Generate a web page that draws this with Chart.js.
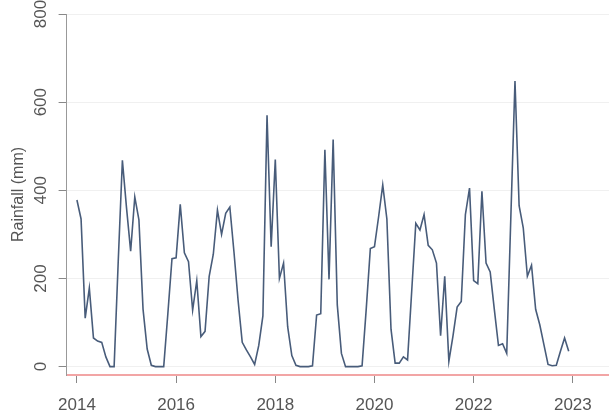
<!DOCTYPE html>
<html>
<head>
<meta charset="utf-8">
<script src="https://cdn.jsdelivr.net/npm/chart.js@4"></script>
<style>
  html, body { margin: 0; padding: 0; background: #fff; }
  #wrap { width: 609px; height: 417px; }
</style>
</head>
<body>
<div id="wrap"><canvas id="chart"></canvas></div>
<script>
// monthly rainfall (mm), Jan 2014 onwards, one value per month
const rainfall = [
  378, 335, 110, 178, 65, 58, 55, 22, 0, 0, 240, 468,
  360, 262, 385, 333, 130, 40, 3, 0, 0, 0, 120, 245,
  247, 368, 258, 238, 128, 195, 68, 80, 205, 255, 355, 300,
  348, 362, 260, 150, 55, 38, 22, 5, 48, 115, 570, 272,
  470, 200, 235, 90, 25, 3, 0, 0, 0, 2, 117, 120,
  492, 198, 515, 140, 30, 0, 0, 0, 0, 2, 130, 268,
  272, 340, 412, 335, 85, 8, 8, 22, 15, 170, 325, 310,
  345, 275, 265, 235, 70, 205, 12, 70, 135, 148, 345, 405,
  195, 188, 398, 235, 215, 130, 48, 52, 30, 340, 648, 365,
  315, 205, 230, 130, 95, 50, 5, 2, 3, 35, 65, 35
];
const xTickValues = [0, 24, 48, 72, 96, 120];
const xTickLabels = ['2014', '2016', '2018', '2020', '2022', '2023'];
const yTickValues = [0, 200, 400, 600, 800];

const points = rainfall.map((v, i) => ({ x: i, y: v }));
const txt = '#555';

new Chart(document.getElementById('chart'), {
  type: 'line',
  data: {
    datasets: [{
      data: points,
      borderColor: 'rgb(72, 92, 122)',
      borderWidth: 1.6,
      pointRadius: 0,
      tension: 0,
      fill: false
    }]
  },
  options: {
    responsive: true,
    maintainAspectRatio: false,
    animation: false,
    layout: { padding: { top: 14, right: 0, bottom: 0, left: 0 } },
    plugins: { legend: { display: false }, tooltip: { enabled: false } },
    scales: {
      x: {
        type: 'linear',
        min: -2.5,
        max: 128.75,
        afterBuildTicks: axis => { axis.ticks = xTickValues.map(v => ({ value: v })); },
        afterFit: axis => { axis.height = 42; },
        ticks: {
          color: txt,
          font: { family: 'Liberation Sans', size: 17 },
          padding: 12,
          maxRotation: 0,
          callback: v => xTickLabels[xTickValues.indexOf(v)]
        },
        grid: { drawOnChartArea: false, tickLength: 8, tickColor: '#888' },
        border: { color: 'rgb(242, 165, 165)', width: 2 }
      },
      y: {
        min: -19,
        max: 800,
        afterBuildTicks: axis => { axis.ticks = yTickValues.map(v => ({ value: v })); },
        ticks: {
          color: txt,
          font: { family: 'Liberation Sans', size: 17 },
          padding: 3,
          minRotation: 90,
          maxRotation: 90,
          crossAlign: 'center'
        },
        grid: { color: '#f0f0f0', tickLength: 8, tickColor: '#888' },
        border: { color: '#999', width: 1 },
        title: {
          display: true,
          text: 'Rainfall (mm)',
          color: txt,
          font: { family: 'Liberation Sans', size: 16 },
          padding: { top: 9, bottom: 4 }
        }
      }
    }
  }
});
</script>
</body>
</html>
